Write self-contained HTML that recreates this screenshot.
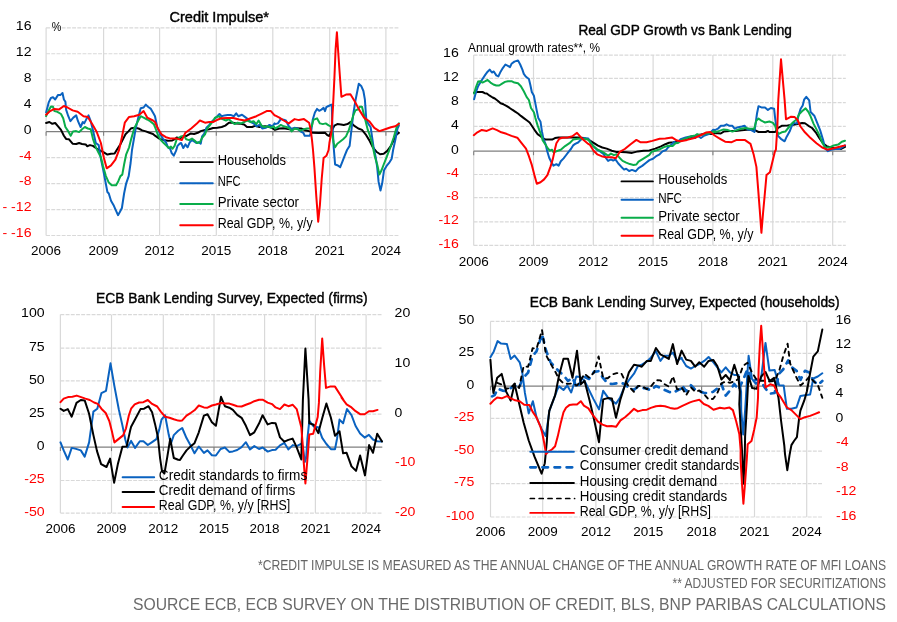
<!DOCTYPE html>
<html><head><meta charset="utf-8"><title>Credit charts</title>
<style>html,body{margin:0;padding:0;background:#fff}svg{display:block;font-family:"Liberation Sans", sans-serif}</style>
</head><body>
<svg width="897" height="622" viewBox="0 0 897 622">
<rect width="897" height="622" fill="#fff"/>
<line x1="46.1" y1="27.8" x2="398.9" y2="27.8" stroke="#d9d9d9" stroke-width="1.2" stroke-dasharray="3.9 1.3"/>
<line x1="46.1" y1="53.7625" x2="398.9" y2="53.7625" stroke="#d9d9d9" stroke-width="1.2" stroke-dasharray="3.9 1.3"/>
<line x1="46.1" y1="79.725" x2="398.9" y2="79.725" stroke="#d9d9d9" stroke-width="1.2" stroke-dasharray="3.9 1.3"/>
<line x1="46.1" y1="105.68749999999999" x2="398.9" y2="105.68749999999999" stroke="#d9d9d9" stroke-width="1.2" stroke-dasharray="3.9 1.3"/>
<line x1="46.1" y1="157.6125" x2="398.9" y2="157.6125" stroke="#d9d9d9" stroke-width="1.2" stroke-dasharray="3.9 1.3"/>
<line x1="46.1" y1="183.575" x2="398.9" y2="183.575" stroke="#d9d9d9" stroke-width="1.2" stroke-dasharray="3.9 1.3"/>
<line x1="46.1" y1="209.5375" x2="398.9" y2="209.5375" stroke="#d9d9d9" stroke-width="1.2" stroke-dasharray="3.9 1.3"/>
<line x1="46.1" y1="235.5" x2="398.9" y2="235.5" stroke="#d9d9d9" stroke-width="1.2" stroke-dasharray="3.9 1.3"/>
<line x1="46.1" y1="27.8" x2="46.1" y2="235.5" stroke="#d9d9d9" stroke-width="1.2"/>
<line x1="103.6" y1="27.8" x2="103.6" y2="235.5" stroke="#d9d9d9" stroke-width="1.2"/>
<line x1="159.6" y1="27.8" x2="159.6" y2="235.5" stroke="#d9d9d9" stroke-width="1.2"/>
<line x1="216.3" y1="27.8" x2="216.3" y2="235.5" stroke="#d9d9d9" stroke-width="1.2"/>
<line x1="272.8" y1="27.8" x2="272.8" y2="235.5" stroke="#d9d9d9" stroke-width="1.2"/>
<line x1="329.7" y1="27.8" x2="329.7" y2="235.5" stroke="#d9d9d9" stroke-width="1.2"/>
<line x1="385.9" y1="27.8" x2="385.9" y2="235.5" stroke="#d9d9d9" stroke-width="1.2"/>
<line x1="46.1" y1="131.65" x2="398.9" y2="131.65" stroke="#7f7f7f" stroke-width="1.3"/>
<line x1="46.1" y1="131.65" x2="46.1" y2="135.65" stroke="#7f7f7f" stroke-width="1.1"/>
<line x1="103.6" y1="131.65" x2="103.6" y2="135.65" stroke="#7f7f7f" stroke-width="1.1"/>
<line x1="159.6" y1="131.65" x2="159.6" y2="135.65" stroke="#7f7f7f" stroke-width="1.1"/>
<line x1="216.3" y1="131.65" x2="216.3" y2="135.65" stroke="#7f7f7f" stroke-width="1.1"/>
<line x1="272.8" y1="131.65" x2="272.8" y2="135.65" stroke="#7f7f7f" stroke-width="1.1"/>
<line x1="329.7" y1="131.65" x2="329.7" y2="135.65" stroke="#7f7f7f" stroke-width="1.1"/>
<line x1="385.9" y1="131.65" x2="385.9" y2="135.65" stroke="#7f7f7f" stroke-width="1.1"/>
<polyline points="46.1,123.0 49.4,122.0 52.3,123.8 55.2,123.0 58.1,126.3 61.0,129.9 63.9,135.7 66.1,138.9 69.0,139.3 72.6,143.7 76.2,144.0 79.1,143.0 82.0,144.0 85.7,144.4 87.1,146.2 90.0,145.1 92.9,145.9 95.8,148.0 99.4,150.2 103.8,152.4 107.4,154.6 111.0,153.8 114.6,153.6 117.5,148.8 120.4,144.4 123.3,138.6 125.5,134.3 128.4,131.4 131.3,128.2 134.9,127.8 138.6,128.5 142.2,130.4 145.8,131.4 149.4,132.8 153.0,134.0 155.0,135.7 159.3,138.6 163.7,140.1 168.0,140.8 172.4,140.4 175.3,138.9 176.7,137.5 179.6,138.3 183.3,136.9 186.9,135.7 190.5,133.6 194.1,134.0 197.8,132.8 200.7,131.1 205.0,129.9 209.3,129.2 213.0,128.0 217.3,127.8 221.7,127.0 225.3,125.6 228.9,122.7 231.8,122.4 236.2,123.4 240.5,123.8 244.1,124.4 247.0,127.0 252.1,127.0 255.0,125.9 259.4,127.0 265.1,126.3 270.9,127.3 275.0,129.9 279.4,128.5 283.7,128.2 289.5,129.2 295.3,128.2 301.1,128.5 305.4,130.2 309.8,131.4 312.7,132.8 318.5,133.1 325.0,132.8 327.2,135.0 329.4,136.0 331.5,131.4 334.4,125.6 337.3,124.1 340.9,124.4 343.8,124.9 347.5,124.1 350.4,122.0 354.0,125.6 358.3,128.5 362.0,129.9 365.6,134.3 369.2,140.1 372.8,147.3 376.4,151.7 380.1,154.3 383.7,153.8 387.3,150.9 390.9,145.9 393.8,140.1 396.7,134.3 398.9,132.8" fill="none" stroke="#000" stroke-width="2.0" stroke-linejoin="round" stroke-linecap="round"/>
<polyline points="46.1,112.5 48.7,102.4 50.9,98.0 53.0,97.3 55.2,99.5 58.1,94.9 60.3,95.1 62.5,93.0 63.9,99.5 65.4,101.7 66.1,109.6 68.3,116.2 70.4,121.2 73.3,117.6 76.2,115.4 78.0,121.2 80.6,127.0 82.8,122.0 84.2,123.4 86.4,119.1 88.5,115.4 90.7,121.2 92.9,129.9 95.8,143.0 98.7,145.1 100.9,158.7 103.0,168.8 105.2,180.4 107.4,192.0 108.8,193.5 111.0,200.7 113.9,205.8 116.1,210.9 118.0,215.2 119.7,212.3 121.9,208.0 124.1,193.5 126.2,183.3 128.7,176.1 130.6,163.0 132.0,150.0 135.7,128.5 138.6,116.2 140.7,108.2 143.6,107.5 145.8,104.6 148.0,106.7 150.9,108.9 153.8,114.0 155.0,116.2 157.2,127.0 160.1,134.3 163.0,138.6 165.9,142.2 168.0,147.3 170.2,148.8 171.7,153.1 173.8,155.7 176.0,150.9 177.5,145.9 179.6,143.7 181.1,143.0 183.3,148.0 185.4,144.4 187.6,147.3 189.8,142.2 192.0,140.1 194.1,141.5 196.3,143.0 198.5,142.2 200.7,143.7 202.1,136.4 204.3,133.6 206.4,127.8 209.3,124.9 212.2,121.2 214.4,119.1 217.3,116.2 219.5,114.0 221.7,116.2 224.6,115.4 227.5,115.1 231.1,115.1 234.0,116.2 236.2,113.3 238.3,116.2 242.0,114.7 244.9,116.9 247.8,119.1 250.7,122.0 253.6,123.4 256.4,126.3 259.4,124.9 262.2,128.5 265.9,127.8 269.5,124.9 272.4,126.3 274.6,123.4 275.0,124.1 277.9,123.4 280.8,119.1 283.7,119.8 285.9,120.5 288.8,126.3 291.7,129.2 294.6,127.8 297.5,128.5 300.4,131.4 303.3,132.8 304.7,135.7 307.6,135.7 309.8,135.7 311.2,131.4 312.7,119.8 314.9,112.5 317.0,108.9 319.2,110.8 321.4,109.6 323.6,107.9 325.0,111.1 326.4,107.0 328.6,106.0 330.8,105.0 331.8,104.6 332.2,121.2 333.0,134.3 333.7,147.3 335.1,164.5 337.3,165.2 340.2,167.1 342.4,161.6 344.6,155.8 347.0,150.0 349.6,145.9 351.1,132.8 353.3,114.0 355.4,100.9 356.2,96.8 358.8,83.8 361.2,85.9 363.4,91.0 364.9,99.7 365.6,109.9 366.3,119.8 368.5,124.1 370.6,127.0 372.1,137.2 373.6,147.3 375.7,157.2 377.2,167.4 378.6,181.9 380.5,190.6 382.2,183.3 384.0,170.3 386.6,165.9 389.5,162.3 391.7,158.7 393.1,150.0 395.3,140.1 397.5,128.5 398.9,125.6" fill="none" stroke="#0a62c0" stroke-width="2.0" stroke-linejoin="round" stroke-linecap="round"/>
<polyline points="46.1,116.2 48.7,110.4 50.9,106.5 53.0,106.7 54.5,111.1 57.4,111.8 61.0,114.0 63.2,118.3 65.4,127.0 68.3,131.4 70.7,135.7 73.0,131.4 76.2,131.1 79.1,132.1 82.0,129.2 84.9,127.0 87.8,128.5 90.7,129.2 92.9,138.6 95.8,147.3 98.7,153.1 100.9,157.2 103.0,165.9 105.9,176.1 108.8,182.6 111.7,185.2 116.1,185.2 118.3,181.2 120.4,176.1 122.3,174.6 124.1,164.5 126.2,154.3 129.1,147.3 131.3,138.6 134.2,128.5 137.1,122.7 140.7,116.2 143.6,117.6 147.2,119.5 150.1,121.2 153.8,124.1 155.0,127.0 157.9,135.0 160.8,140.1 163.7,143.0 166.6,145.9 168.8,148.0 170.9,146.6 172.4,148.8 174.6,145.9 176.7,139.3 178.9,137.9 181.1,136.4 184.0,135.7 186.2,139.3 189.1,140.1 192.0,138.6 194.9,140.8 197.0,143.0 199.9,142.2 202.1,137.9 205.0,134.3 207.2,128.5 210.1,124.9 213.0,121.2 215.1,117.6 218.8,116.2 222.4,119.1 226.0,120.5 228.9,119.1 231.8,122.0 234.7,124.1 237.6,122.7 241.2,123.4 244.1,122.0 247.0,120.5 250.7,122.0 253.6,121.2 256.4,124.1 258.6,120.5 261.5,125.6 264.4,127.0 268.0,126.3 270.9,127.8 273.8,126.3 275.0,128.5 277.9,127.0 280.8,124.9 283.7,126.3 286.6,127.0 289.5,128.5 291.7,131.4 294.6,128.5 297.5,129.2 300.4,130.7 304.0,129.2 306.9,128.5 309.8,128.5 312.0,125.6 313.4,119.8 317.0,118.3 319.9,123.4 322.8,124.1 325.7,123.4 328.6,125.3 330.8,126.3 332.2,134.3 333.7,143.0 335.1,147.3 337.3,143.7 340.2,141.5 343.1,139.3 346.0,136.4 348.9,129.9 351.1,122.7 353.3,115.4 355.4,110.4 358.3,109.3 359.8,106.7 362.0,106.7 363.4,112.5 365.6,121.2 367.8,129.9 369.9,135.7 372.1,143.0 375.0,157.2 377.2,164.5 379.4,174.6 381.5,170.3 383.7,164.5 386.6,157.2 390.9,145.9 393.8,137.2 396.7,127.0 398.9,123.4" fill="none" stroke="#0aad4a" stroke-width="2.0" stroke-linejoin="round" stroke-linecap="round"/>
<polyline points="46.1,114.7 50.1,111.1 54.5,108.9 58.8,109.6 63.9,106.0 67.5,107.5 72.6,110.4 77.7,111.8 83.5,116.2 87.8,116.9 92.2,124.1 96.5,131.4 100.9,143.0 103.8,157.5 106.7,168.3 111.0,165.4 115.4,159.6 119.0,150.2 121.9,137.2 124.8,122.7 129.1,116.9 134.2,116.2 139.3,114.7 143.6,111.1 147.2,117.6 153.0,120.5 155.0,122.0 157.9,128.5 161.5,134.3 165.9,137.2 170.9,138.6 176.7,138.6 181.8,140.1 185.4,132.8 191.2,128.5 196.3,124.1 199.9,120.5 205.0,122.7 209.3,122.0 213.0,122.0 217.3,119.8 221.7,118.3 227.5,118.0 233.3,118.0 239.1,119.5 244.9,120.5 250.7,118.3 256.4,116.2 262.2,113.3 266.6,111.1 270.9,111.1 274.6,115.4 275.0,115.4 279.4,117.6 283.7,120.5 288.8,123.4 294.6,119.1 298.9,120.1 304.0,119.1 309.1,122.7 310.5,128.5 312.0,140.1 313.0,150.0 314.4,167.4 316.3,196.4 318.2,221.7 319.9,205.1 321.7,179.0 323.6,158.0 326.4,155.8 328.6,150.0 329.4,143.0 331.5,131.4 333.0,106.7 334.4,78.0 335.6,49.0 336.9,32.3 338.0,49.0 339.5,70.7 341.4,96.8 346.0,94.6 350.4,94.3 354.7,101.2 359.1,109.6 364.1,117.6 369.2,121.2 374.3,127.8 379.4,131.1 385.1,129.2 390.9,127.3 395.3,126.3 398.9,123.8" fill="none" stroke="#ff0000" stroke-width="2.0" stroke-linejoin="round" stroke-linecap="round"/>
<text x="31.5" y="29.7" font-size="13.3" text-anchor="end" textLength="15.7" lengthAdjust="spacingAndGlyphs" fill="#000">16</text>
<text x="31.5" y="55.6625" font-size="13.3" text-anchor="end" textLength="15.7" lengthAdjust="spacingAndGlyphs" fill="#000">12</text>
<text x="31.5" y="81.625" font-size="13.3" text-anchor="end" textLength="7.8" lengthAdjust="spacingAndGlyphs" fill="#000">8</text>
<text x="31.5" y="107.58749999999999" font-size="13.3" text-anchor="end" textLength="7.8" lengthAdjust="spacingAndGlyphs" fill="#000">4</text>
<text x="31.5" y="133.55" font-size="13.3" text-anchor="end" textLength="7.8" lengthAdjust="spacingAndGlyphs" fill="#000">0</text>
<text x="31.5" y="159.51250000000002" font-size="13.3" text-anchor="end" textLength="12.5" lengthAdjust="spacingAndGlyphs" fill="#ff0000">-4</text>
<text x="31.5" y="185.475" font-size="13.3" text-anchor="end" textLength="12.5" lengthAdjust="spacingAndGlyphs" fill="#ff0000">-8</text>
<text x="31.5" y="211.4375" font-size="13.3" text-anchor="end" textLength="29.0" lengthAdjust="spacingAndGlyphs" fill="#ff0000">- -12</text>
<text x="31.5" y="237.4" font-size="13.3" text-anchor="end" textLength="29.0" lengthAdjust="spacingAndGlyphs" fill="#ff0000">- -16</text>
<text x="46.1" y="255" font-size="13.3" text-anchor="middle" textLength="30" lengthAdjust="spacingAndGlyphs" fill="#000">2006</text>
<text x="103.6" y="255" font-size="13.3" text-anchor="middle" textLength="30" lengthAdjust="spacingAndGlyphs" fill="#000">2009</text>
<text x="159.6" y="255" font-size="13.3" text-anchor="middle" textLength="30" lengthAdjust="spacingAndGlyphs" fill="#000">2012</text>
<text x="216.3" y="255" font-size="13.3" text-anchor="middle" textLength="30" lengthAdjust="spacingAndGlyphs" fill="#000">2015</text>
<text x="272.8" y="255" font-size="13.3" text-anchor="middle" textLength="30" lengthAdjust="spacingAndGlyphs" fill="#000">2018</text>
<text x="329.7" y="255" font-size="13.3" text-anchor="middle" textLength="30" lengthAdjust="spacingAndGlyphs" fill="#000">2021</text>
<text x="385.9" y="255" font-size="13.3" text-anchor="middle" textLength="30" lengthAdjust="spacingAndGlyphs" fill="#000">2024</text>
<text x="169.5" y="22" font-size="14" textLength="99.5" lengthAdjust="spacingAndGlyphs" fill="#000" stroke="#000" stroke-width="0.4">Credit Impulse*</text>
<text x="51.8" y="31" font-size="13.5" textLength="9.6" lengthAdjust="spacingAndGlyphs" fill="#000">%</text>
<line x1="180.2" y1="162.1" x2="212.8" y2="162.1" stroke="#000" stroke-width="1.9" stroke-linecap="round"/>
<text x="217.7" y="165.1" font-size="14" textLength="68.3" lengthAdjust="spacingAndGlyphs" fill="#000">Households</text>
<line x1="180.2" y1="183.2" x2="212.8" y2="183.2" stroke="#0a62c0" stroke-width="1.9" stroke-linecap="round"/>
<text x="217.7" y="186.2" font-size="14" textLength="22.8" lengthAdjust="spacingAndGlyphs" fill="#000">NFC</text>
<line x1="180.2" y1="204" x2="212.8" y2="204" stroke="#0aad4a" stroke-width="1.9" stroke-linecap="round"/>
<text x="217.7" y="207.0" font-size="14" textLength="81.3" lengthAdjust="spacingAndGlyphs" fill="#000">Private sector</text>
<line x1="180.2" y1="225.3" x2="212.8" y2="225.3" stroke="#ff0000" stroke-width="1.9" stroke-linecap="round"/>
<text x="217.7" y="228.3" font-size="14" textLength="95.1" lengthAdjust="spacingAndGlyphs" fill="#000">Real GDP, %, y/y</text>
<line x1="473.7" y1="55.1" x2="845.8" y2="55.1" stroke="#d9d9d9" stroke-width="1.2" stroke-dasharray="3.9 1.3"/>
<line x1="473.7" y1="78.3" x2="845.8" y2="78.3" stroke="#d9d9d9" stroke-width="1.2" stroke-dasharray="3.9 1.3"/>
<line x1="473.7" y1="102.6" x2="845.8" y2="102.6" stroke="#d9d9d9" stroke-width="1.2" stroke-dasharray="3.9 1.3"/>
<line x1="473.7" y1="126.4" x2="845.8" y2="126.4" stroke="#d9d9d9" stroke-width="1.2" stroke-dasharray="3.9 1.3"/>
<line x1="473.7" y1="174.5" x2="845.8" y2="174.5" stroke="#d9d9d9" stroke-width="1.2" stroke-dasharray="3.9 1.3"/>
<line x1="473.7" y1="197.7" x2="845.8" y2="197.7" stroke="#d9d9d9" stroke-width="1.2" stroke-dasharray="3.9 1.3"/>
<line x1="473.7" y1="221.9" x2="845.8" y2="221.9" stroke="#d9d9d9" stroke-width="1.2" stroke-dasharray="3.9 1.3"/>
<line x1="473.7" y1="245.4" x2="845.8" y2="245.4" stroke="#d9d9d9" stroke-width="1.2" stroke-dasharray="3.9 1.3"/>
<line x1="473.7" y1="55.1" x2="473.7" y2="245.4" stroke="#d9d9d9" stroke-width="1.2"/>
<line x1="533.5" y1="55.1" x2="533.5" y2="245.4" stroke="#d9d9d9" stroke-width="1.2"/>
<line x1="593.3" y1="55.1" x2="593.3" y2="245.4" stroke="#d9d9d9" stroke-width="1.2"/>
<line x1="653.1" y1="55.1" x2="653.1" y2="245.4" stroke="#d9d9d9" stroke-width="1.2"/>
<line x1="712.9" y1="55.1" x2="712.9" y2="245.4" stroke="#d9d9d9" stroke-width="1.2"/>
<line x1="772.8" y1="55.1" x2="772.8" y2="245.4" stroke="#d9d9d9" stroke-width="1.2"/>
<line x1="832.7" y1="55.1" x2="832.7" y2="245.4" stroke="#d9d9d9" stroke-width="1.2"/>
<line x1="473.7" y1="151.2" x2="845.8" y2="151.2" stroke="#7f7f7f" stroke-width="1.3"/>
<line x1="473.7" y1="151.2" x2="473.7" y2="155.2" stroke="#7f7f7f" stroke-width="1.1"/>
<line x1="533.5" y1="151.2" x2="533.5" y2="155.2" stroke="#7f7f7f" stroke-width="1.1"/>
<line x1="593.3" y1="151.2" x2="593.3" y2="155.2" stroke="#7f7f7f" stroke-width="1.1"/>
<line x1="653.1" y1="151.2" x2="653.1" y2="155.2" stroke="#7f7f7f" stroke-width="1.1"/>
<line x1="712.9" y1="151.2" x2="712.9" y2="155.2" stroke="#7f7f7f" stroke-width="1.1"/>
<line x1="772.8" y1="151.2" x2="772.8" y2="155.2" stroke="#7f7f7f" stroke-width="1.1"/>
<line x1="832.7" y1="151.2" x2="832.7" y2="155.2" stroke="#7f7f7f" stroke-width="1.1"/>
<polyline points="474.1,92.8 476.7,92.0 479.6,92.0 482.5,92.0 484.7,93.2 486.8,93.5 489.7,95.7 492.6,97.5 494.8,98.5 497.7,100.7 500.6,103.3 503.5,104.3 506.4,105.8 509.3,107.7 512.2,109.7 515.1,111.6 518.0,113.5 520.9,115.9 523.8,118.1 526.7,120.3 529.6,122.5 532.5,126.8 535.4,131.2 537.6,134.1 540.5,136.2 542.6,138.1 545.5,139.6 552.1,139.6 555.0,138.1 558.6,137.4 563.6,137.4 569.5,137.4 578.1,137.4 583.9,138.1 588.3,139.6 590.0,140.6 593.6,142.8 598.0,145.7 602.3,147.5 606.7,148.6 611.7,150.7 616.1,151.9 621.2,151.9 626.2,152.2 632.0,152.9 637.8,151.4 643.6,150.7 649.4,150.4 655.2,148.6 661.0,146.4 665.4,144.2 669.0,142.8 673.3,142.3 678.4,141.3 682.8,139.9 688.5,138.0 694.4,136.2 700.1,134.8 705.9,133.6 711.7,134.1 715.0,133.0 720.8,133.5 723.7,131.6 729.5,130.9 735.3,130.9 744.0,130.1 749.8,129.4 754.9,130.1 758.5,132.0 765.7,132.0 767.9,130.9 769.4,132.0 775.1,132.0 778.0,128.0 781.7,125.8 787.5,125.4 793.3,124.8 797.6,123.9 802.0,122.9 804.9,123.3 808.5,125.8 812.1,128.0 815.7,132.3 819.4,138.1 823.0,143.2 826.6,146.1 830.9,147.5 836.7,148.3 841.1,149.0 845.0,146.8" fill="none" stroke="#000" stroke-width="2.0" stroke-linejoin="round" stroke-linecap="round"/>
<polyline points="474.1,99.3 476.0,92.0 478.1,86.2 480.3,82.6 482.5,79.0 485.4,74.6 487.6,71.7 489.7,69.6 491.9,72.5 493.8,71.5 496.3,75.4 498.4,76.4 500.6,71.7 502.8,68.1 505.4,64.5 507.9,65.9 510.0,67.1 511.5,63.8 514.4,61.6 518.0,60.4 520.2,64.5 522.4,69.6 523.8,73.9 526.0,76.8 528.9,79.0 530.3,84.8 531.8,92.0 533.9,95.7 535.4,103.6 536.8,110.9 538.3,118.1 540.5,121.7 541.9,131.2 543.4,138.8 545.5,143.9 547.0,150.4 549.2,157.7 551.3,162.0 553.5,165.7 556.4,164.2 558.6,165.7 560.8,161.3 563.6,158.4 565.8,155.5 568.0,152.6 570.9,149.0 573.1,145.4 575.2,143.9 578.1,142.5 581.0,139.6 583.9,138.1 588.3,138.6 590.0,141.3 592.9,145.7 596.5,149.3 600.1,151.4 603.8,154.3 605.9,158.0 608.1,160.9 611.0,159.4 613.2,160.6 615.4,159.4 618.3,163.5 621.2,166.7 624.1,169.6 626.2,168.8 629.1,171.0 632.0,169.9 635.6,171.3 638.5,168.1 642.2,165.9 645.8,163.0 649.4,160.1 653.0,158.7 656.7,155.8 659.6,154.3 662.5,151.4 666.1,150.0 668.3,147.1 671.2,144.9 674.1,142.0 677.0,143.2 680.6,139.1 685.6,137.4 691.5,136.2 695.1,138.0 697.2,135.5 700.9,138.0 704.5,135.5 708.8,134.1 713.2,129.7 715.0,130.1 717.9,128.7 720.8,125.8 723.7,125.8 726.6,124.3 729.5,125.8 732.4,125.8 734.6,128.7 738.2,127.2 741.8,126.5 744.7,125.8 747.6,129.4 751.2,130.1 754.4,132.0 755.6,123.6 757.0,113.5 758.5,106.2 761.4,107.4 765.0,107.4 767.9,109.9 770.8,108.0 774.1,108.8 775.1,117.8 776.6,129.4 778.0,135.9 780.9,138.8 784.6,141.3 786.7,136.7 789.6,131.6 791.8,125.8 794.0,122.9 796.9,123.6 798.3,116.4 800.5,109.1 802.7,105.5 804.1,99.7 806.3,96.8 809.2,100.4 810.6,112.0 814.3,115.7 817.2,122.9 820.1,130.1 823.0,139.6 825.1,148.3 828.0,151.2 830.9,149.7 835.3,149.0 839.6,149.0 845.0,145.4" fill="none" stroke="#0a62c0" stroke-width="2.0" stroke-linejoin="round" stroke-linecap="round"/>
<polyline points="474.1,93.5 476.0,87.0 478.1,81.6 480.3,81.2 482.5,82.6 485.4,81.2 487.6,80.0 490.5,82.6 493.4,84.5 496.3,85.5 499.2,85.5 502.1,83.6 505.0,81.9 507.9,81.2 511.5,81.2 514.4,82.6 518.0,83.3 520.9,86.2 523.8,91.3 526.7,97.1 528.9,100.0 531.0,108.0 533.9,112.3 535.4,118.1 537.6,125.4 539.7,131.2 541.9,137.0 542.6,140.3 545.5,144.6 547.7,148.3 549.9,150.7 552.1,149.7 553.5,152.2 556.4,151.2 560.8,149.7 565.1,146.1 569.5,143.2 573.1,139.6 578.1,138.8 583.9,138.8 588.3,139.6 590.0,142.0 593.6,146.4 597.2,149.3 601.6,151.4 605.2,153.6 608.1,155.8 611.0,153.6 613.9,155.1 616.8,154.3 619.7,158.0 622.6,160.9 626.2,162.6 629.9,164.1 633.5,164.9 636.4,164.5 638.5,161.6 642.2,159.4 645.8,157.2 649.4,154.8 651.6,151.9 655.2,150.7 659.6,149.3 663.9,147.1 668.3,145.7 672.6,146.1 675.5,143.2 678.4,142.8 682.0,139.9 687.1,138.0 691.5,136.2 695.1,135.5 697.2,134.1 700.9,135.1 705.9,133.6 710.3,133.0 714.6,131.2 715.0,132.3 719.4,130.9 723.7,129.4 728.0,130.1 732.4,131.6 736.7,130.1 741.1,128.7 745.4,128.0 749.8,128.7 754.1,128.7 756.3,120.7 758.5,118.5 761.4,120.7 765.0,122.5 769.4,121.5 773.0,122.9 775.1,125.8 776.6,130.9 778.8,133.8 781.7,132.3 785.3,131.6 788.2,128.0 791.1,124.3 794.0,121.5 796.9,119.3 799.1,114.2 802.0,111.3 805.6,108.4 808.5,112.0 810.6,116.4 813.5,123.6 816.5,129.4 819.4,135.2 822.2,142.5 825.1,147.5 829.5,147.5 833.8,145.4 838.2,144.6 841.8,141.7 845.0,140.7" fill="none" stroke="#0aad4a" stroke-width="2.0" stroke-linejoin="round" stroke-linecap="round"/>
<polyline points="473.8,135.2 477.4,132.3 481.8,129.9 486.8,130.9 492.6,128.4 497.0,130.1 501.3,132.3 506.4,133.8 511.5,135.9 517.3,137.7 521.6,143.2 526.0,148.7 528.9,156.2 531.8,164.9 534.4,175.1 536.8,183.8 540.5,182.3 544.1,179.4 547.4,175.1 550.6,166.4 552.8,159.1 555.0,149.0 556.4,143.2 559.3,138.8 562.2,137.7 568.0,137.4 572.4,136.2 577.0,132.8 580.3,136.7 583.9,140.3 588.3,143.9 590.0,144.9 593.6,150.7 597.2,154.3 601.6,156.2 605.9,157.2 611.7,157.2 615.8,158.3 619.7,151.9 624.8,149.0 630.6,144.2 636.4,139.9 640.7,142.3 646.5,142.3 652.3,140.9 659.6,138.8 665.4,138.4 671.9,137.4 677.0,140.6 680.6,141.3 687.1,139.9 694.4,138.0 700.1,135.5 705.9,132.6 710.3,131.9 714.6,135.5 720.1,138.8 725.1,141.7 731.7,142.2 736.7,139.9 744.7,139.9 750.5,143.9 752.7,151.2 753.8,155.1 756.4,166.9 758.0,187.2 759.7,209.2 761.4,232.8 763.1,212.5 764.8,194.0 766.5,175.1 769.9,172.3 773.2,158.5 774.9,151.4 775.9,149.7 777.3,128.0 778.3,99.8 781.0,59.3 784.6,99.8 786.0,119.3 791.1,116.7 794.7,117.1 797.6,120.0 800.5,126.5 804.9,132.3 810.6,138.1 816.5,143.2 822.2,147.5 827.3,149.7 833.8,148.3 839.6,146.8 845.0,145.4" fill="none" stroke="#ff0000" stroke-width="2.0" stroke-linejoin="round" stroke-linecap="round"/>
<text x="458.8" y="57.4" font-size="13.3" text-anchor="end" textLength="15.7" lengthAdjust="spacingAndGlyphs" fill="#000">16</text>
<text x="458.8" y="80.6" font-size="13.3" text-anchor="end" textLength="15.7" lengthAdjust="spacingAndGlyphs" fill="#000">12</text>
<text x="458.8" y="104.89999999999999" font-size="13.3" text-anchor="end" textLength="7.8" lengthAdjust="spacingAndGlyphs" fill="#000">8</text>
<text x="458.8" y="128.70000000000002" font-size="13.3" text-anchor="end" textLength="7.8" lengthAdjust="spacingAndGlyphs" fill="#000">4</text>
<text x="458.8" y="153.5" font-size="13.3" text-anchor="end" textLength="7.8" lengthAdjust="spacingAndGlyphs" fill="#000">0</text>
<text x="458.8" y="176.8" font-size="13.3" text-anchor="end" textLength="12.5" lengthAdjust="spacingAndGlyphs" fill="#ff0000">-4</text>
<text x="458.8" y="200.0" font-size="13.3" text-anchor="end" textLength="12.5" lengthAdjust="spacingAndGlyphs" fill="#ff0000">-8</text>
<text x="458.8" y="224.20000000000002" font-size="13.3" text-anchor="end" textLength="20.4" lengthAdjust="spacingAndGlyphs" fill="#ff0000">-12</text>
<text x="458.8" y="247.70000000000002" font-size="13.3" text-anchor="end" textLength="20.4" lengthAdjust="spacingAndGlyphs" fill="#ff0000">-16</text>
<text x="473.7" y="266" font-size="13.3" text-anchor="middle" textLength="30" lengthAdjust="spacingAndGlyphs" fill="#000">2006</text>
<text x="533.5" y="266" font-size="13.3" text-anchor="middle" textLength="30" lengthAdjust="spacingAndGlyphs" fill="#000">2009</text>
<text x="593.3" y="266" font-size="13.3" text-anchor="middle" textLength="30" lengthAdjust="spacingAndGlyphs" fill="#000">2012</text>
<text x="653.1" y="266" font-size="13.3" text-anchor="middle" textLength="30" lengthAdjust="spacingAndGlyphs" fill="#000">2015</text>
<text x="712.9" y="266" font-size="13.3" text-anchor="middle" textLength="30" lengthAdjust="spacingAndGlyphs" fill="#000">2018</text>
<text x="772.8" y="266" font-size="13.3" text-anchor="middle" textLength="30" lengthAdjust="spacingAndGlyphs" fill="#000">2021</text>
<text x="832.7" y="266" font-size="13.3" text-anchor="middle" textLength="30" lengthAdjust="spacingAndGlyphs" fill="#000">2024</text>
<text x="578.4" y="35" font-size="14" textLength="213.5" lengthAdjust="spacingAndGlyphs" fill="#000" stroke="#000" stroke-width="0.4">Real GDP Growth vs Bank Lending</text>
<text x="468" y="51.9" font-size="12" textLength="132" lengthAdjust="spacingAndGlyphs" fill="#000">Annual growth rates**, %</text>
<line x1="621.5" y1="181.4" x2="652.9" y2="181.4" stroke="#000" stroke-width="1.9" stroke-linecap="round"/>
<text x="658.2" y="184.4" font-size="14" textLength="69.0" lengthAdjust="spacingAndGlyphs" fill="#000">Households</text>
<line x1="621.5" y1="199.7" x2="652.9" y2="199.7" stroke="#0a62c0" stroke-width="1.9" stroke-linecap="round"/>
<text x="658.2" y="202.7" font-size="14" textLength="23.8" lengthAdjust="spacingAndGlyphs" fill="#000">NFC</text>
<line x1="621.5" y1="217.8" x2="652.9" y2="217.8" stroke="#0aad4a" stroke-width="1.9" stroke-linecap="round"/>
<text x="658.2" y="220.8" font-size="14" textLength="81.5" lengthAdjust="spacingAndGlyphs" fill="#000">Private sector</text>
<line x1="621.5" y1="235.8" x2="652.9" y2="235.8" stroke="#ff0000" stroke-width="1.9" stroke-linecap="round"/>
<text x="658.2" y="238.8" font-size="14" textLength="95.3" lengthAdjust="spacingAndGlyphs" fill="#000">Real GDP, %, y/y</text>
<line x1="60.4" y1="314.6" x2="382.3" y2="314.6" stroke="#d9d9d9" stroke-width="1.2" stroke-dasharray="3.9 1.3"/>
<line x1="60.4" y1="348.2" x2="382.3" y2="348.2" stroke="#d9d9d9" stroke-width="1.2" stroke-dasharray="3.9 1.3"/>
<line x1="60.4" y1="380.8" x2="382.3" y2="380.8" stroke="#d9d9d9" stroke-width="1.2" stroke-dasharray="3.9 1.3"/>
<line x1="60.4" y1="414.1" x2="382.3" y2="414.1" stroke="#d9d9d9" stroke-width="1.2" stroke-dasharray="3.9 1.3"/>
<line x1="60.4" y1="480.5" x2="382.3" y2="480.5" stroke="#d9d9d9" stroke-width="1.2" stroke-dasharray="3.9 1.3"/>
<line x1="60.4" y1="513.1" x2="382.3" y2="513.1" stroke="#d9d9d9" stroke-width="1.2" stroke-dasharray="3.9 1.3"/>
<line x1="60.4" y1="314.6" x2="60.4" y2="513.1" stroke="#d9d9d9" stroke-width="1.2"/>
<line x1="111.5" y1="314.6" x2="111.5" y2="513.1" stroke="#d9d9d9" stroke-width="1.2"/>
<line x1="163.3" y1="314.6" x2="163.3" y2="513.1" stroke="#d9d9d9" stroke-width="1.2"/>
<line x1="214.0" y1="314.6" x2="214.0" y2="513.1" stroke="#d9d9d9" stroke-width="1.2"/>
<line x1="264.6" y1="314.6" x2="264.6" y2="513.1" stroke="#d9d9d9" stroke-width="1.2"/>
<line x1="315.4" y1="314.6" x2="315.4" y2="513.1" stroke="#d9d9d9" stroke-width="1.2"/>
<line x1="366.1" y1="314.6" x2="366.1" y2="513.1" stroke="#d9d9d9" stroke-width="1.2"/>
<line x1="60.4" y1="447.1" x2="382.3" y2="447.1" stroke="#7f7f7f" stroke-width="1.3"/>
<line x1="60.4" y1="447.1" x2="60.4" y2="451.1" stroke="#7f7f7f" stroke-width="1.1"/>
<line x1="111.5" y1="447.1" x2="111.5" y2="451.1" stroke="#7f7f7f" stroke-width="1.1"/>
<line x1="163.3" y1="447.1" x2="163.3" y2="451.1" stroke="#7f7f7f" stroke-width="1.1"/>
<line x1="214.0" y1="447.1" x2="214.0" y2="451.1" stroke="#7f7f7f" stroke-width="1.1"/>
<line x1="264.6" y1="447.1" x2="264.6" y2="451.1" stroke="#7f7f7f" stroke-width="1.1"/>
<line x1="315.4" y1="447.1" x2="315.4" y2="451.1" stroke="#7f7f7f" stroke-width="1.1"/>
<line x1="366.1" y1="447.1" x2="366.1" y2="451.1" stroke="#7f7f7f" stroke-width="1.1"/>
<polyline points="60.5,442.4 63.7,450.4 67.8,459.5 71.7,447.9 76.0,448.9 80.8,450.4 84.7,456.6 89.1,442.4 93.4,411.6 97.3,408.7 101.4,393.2 106.0,390.9 110.5,363.3 114.4,386.2 118.8,409.4 122.4,425.4 125.3,439.5 127.5,447.5 131.1,440.9 135.1,447.9 139.8,441.2 143.4,441.2 147.8,445.0 152.1,442.1 156.4,439.2 159.3,429.4 161.5,419.6 165.1,415.2 168.8,435.1 170.9,443.8 173.8,435.1 178.2,430.8 182.2,428.0 186.5,438.1 190.9,446.1 194.5,453.3 198.8,446.5 203.9,452.9 207.5,450.4 211.9,455.2 215.9,455.5 220.6,449.0 224.9,447.5 229.3,451.9 232.9,451.4 237.2,450.0 241.6,447.1 245.9,442.2 250.0,449.4 254.3,446.1 259.0,449.0 262.6,447.5 267.7,451.6 272.0,450.1 275.6,449.7 280.0,445.4 284.4,442.9 288.4,449.4 292.8,445.1 296.7,446.1 301.0,443.9 302.9,446.6 304.8,462.0 306.1,458.2 307.4,438.9 309.3,420.9 313.8,426.7 318.3,427.3 322.2,437.9 326.4,444.0 330.9,449.2 335.0,449.2 337.0,438.9 339.5,419.6 343.1,423.2 347.0,409.0 351.5,415.1 355.6,426.0 360.1,433.5 364.6,437.6 368.9,434.8 373.0,439.5 377.2,441.2 382.0,441.5" fill="none" stroke="#0a62c0" stroke-width="2.0" stroke-linejoin="round" stroke-linecap="round"/>
<polyline points="60.5,408.7 63.7,410.9 67.8,409.1 71.7,416.7 76.5,402.9 80.8,400.0 84.7,400.4 89.1,413.8 92.0,428.3 93.4,435.1 97.0,451.1 101.1,464.1 106.5,467.0 110.1,458.6 114.1,482.7 118.0,463.4 122.4,446.7 126.7,446.4 130.4,429.4 131.1,426.8 135.4,418.8 140.5,409.1 144.1,408.7 148.5,406.2 152.1,412.3 155.0,423.9 157.9,437.0 160.1,458.3 162.0,471.1 164.4,473.6 167.3,456.9 170.2,438.8 173.8,458.0 178.2,459.8 180.0,459.9 182.9,455.5 186.5,450.4 190.9,446.1 194.5,443.2 198.8,432.3 203.9,415.6 207.5,414.2 211.9,422.2 215.9,425.8 221.0,396.8 224.9,406.2 229.3,407.7 232.9,409.9 237.2,414.9 241.6,417.8 245.9,425.8 250.0,435.2 254.3,432.3 259.0,423.6 262.6,415.2 267.7,424.4 272.0,422.9 275.6,423.3 280.0,437.4 284.4,441.7 288.4,439.9 292.6,438.6 296.4,446.6 301.3,459.5 302.9,399.8 305.4,348.6 308.6,399.8 309.3,423.4 313.8,424.7 318.3,433.1 322.2,418.3 326.4,403.5 330.9,417.7 335.0,435.7 339.5,431.2 343.1,453.3 346.6,452.8 351.5,466.4 356.0,470.9 360.1,455.4 365.0,475.4 369.1,445.1 373.0,452.8 377.2,433.7 382.0,441.5" fill="none" stroke="#000" stroke-width="2.0" stroke-linejoin="round" stroke-linecap="round"/>
<polyline points="60.5,402.2 63.7,398.6 68.0,397.1 72.4,396.7 76.7,395.6 81.1,397.1 85.4,398.6 89.8,400.0 94.1,402.5 97.8,403.9 101.4,408.7 105.7,413.0 109.3,421.0 112.2,432.6 114.4,442.4 123.1,435.4 126.0,428.3 128.9,415.2 131.1,408.7 134.7,404.4 139.1,402.5 143.4,402.2 147.8,400.0 152.1,403.9 157.2,406.5 160.8,411.6 165.1,416.7 169.5,417.8 173.8,419.3 178.2,420.6 180.0,420.7 182.2,420.4 186.5,415.6 190.9,412.8 194.5,410.3 198.8,405.5 203.9,407.4 207.5,407.7 211.9,405.5 215.9,404.5 221.0,403.0 224.9,403.6 229.3,403.6 232.9,404.8 237.2,406.2 241.6,406.5 245.9,404.8 250.0,403.3 254.3,401.2 259.0,399.7 262.6,399.7 267.7,402.6 272.0,404.1 275.6,407.4 280.0,409.1 284.4,404.5 288.4,406.2 292.8,404.8 296.7,409.1 301.3,427.3 302.9,446.6 303.5,459.3 305.4,483.5 307.4,459.3 308.0,451.8 309.3,434.4 313.2,433.7 317.7,417.0 318.9,402.9 320.2,371.5 322.2,338.6 324.1,365.0 326.0,387.9 329.9,386.6 335.0,386.6 343.4,399.8 341.5,397.7 346.6,404.4 351.5,407.4 355.6,411.2 360.1,414.2 364.6,414.2 368.9,411.2 373.0,411.2 377.5,409.9" fill="none" stroke="#ff0000" stroke-width="2.0" stroke-linejoin="round" stroke-linecap="round"/>
<text x="44.6" y="317.40000000000003" font-size="13.3" text-anchor="end" textLength="23.5" lengthAdjust="spacingAndGlyphs" fill="#000">100</text>
<text x="44.6" y="351.0" font-size="13.3" text-anchor="end" textLength="15.7" lengthAdjust="spacingAndGlyphs" fill="#000">75</text>
<text x="44.6" y="383.6" font-size="13.3" text-anchor="end" textLength="15.7" lengthAdjust="spacingAndGlyphs" fill="#000">50</text>
<text x="44.6" y="416.90000000000003" font-size="13.3" text-anchor="end" textLength="15.7" lengthAdjust="spacingAndGlyphs" fill="#000">25</text>
<text x="44.6" y="449.90000000000003" font-size="13.3" text-anchor="end" textLength="7.8" lengthAdjust="spacingAndGlyphs" fill="#000">0</text>
<text x="44.6" y="483.3" font-size="13.3" text-anchor="end" textLength="20.4" lengthAdjust="spacingAndGlyphs" fill="#ff0000">-25</text>
<text x="44.6" y="515.9" font-size="13.3" text-anchor="end" textLength="20.4" lengthAdjust="spacingAndGlyphs" fill="#ff0000">-50</text>
<text x="394.6" y="317.40000000000003" font-size="13.3" textLength="15.7" lengthAdjust="spacingAndGlyphs" fill="#000">20</text>
<text x="394.6" y="367.02500000000003" font-size="13.3" textLength="15.7" lengthAdjust="spacingAndGlyphs" fill="#000">10</text>
<text x="394.6" y="416.65000000000003" font-size="13.3" textLength="7.8" lengthAdjust="spacingAndGlyphs" fill="#000">0</text>
<text x="395" y="466.27500000000003" font-size="13.3" textLength="20.4" lengthAdjust="spacingAndGlyphs" fill="#ff0000">-10</text>
<text x="395" y="515.9" font-size="13.3" textLength="20.4" lengthAdjust="spacingAndGlyphs" fill="#ff0000">-20</text>
<text x="60.4" y="532.5" font-size="13.3" text-anchor="middle" textLength="30" lengthAdjust="spacingAndGlyphs" fill="#000">2006</text>
<text x="111.5" y="532.5" font-size="13.3" text-anchor="middle" textLength="30" lengthAdjust="spacingAndGlyphs" fill="#000">2009</text>
<text x="163.3" y="532.5" font-size="13.3" text-anchor="middle" textLength="30" lengthAdjust="spacingAndGlyphs" fill="#000">2012</text>
<text x="214.0" y="532.5" font-size="13.3" text-anchor="middle" textLength="30" lengthAdjust="spacingAndGlyphs" fill="#000">2015</text>
<text x="264.6" y="532.5" font-size="13.3" text-anchor="middle" textLength="30" lengthAdjust="spacingAndGlyphs" fill="#000">2018</text>
<text x="315.4" y="532.5" font-size="13.3" text-anchor="middle" textLength="30" lengthAdjust="spacingAndGlyphs" fill="#000">2021</text>
<text x="366.1" y="532.5" font-size="13.3" text-anchor="middle" textLength="30" lengthAdjust="spacingAndGlyphs" fill="#000">2024</text>
<text x="96" y="303" font-size="14" textLength="271.5" lengthAdjust="spacingAndGlyphs" fill="#000" stroke="#000" stroke-width="0.4">ECB Bank Lending Survey, Expected (firms)</text>
<line x1="122.6" y1="477.2" x2="154.2" y2="477.2" stroke="#0a62c0" stroke-width="1.9" stroke-linecap="round"/>
<text x="158.8" y="479.7" font-size="14" textLength="148.5" lengthAdjust="spacingAndGlyphs" fill="#000">Credit standards to firms</text>
<line x1="122.6" y1="492" x2="154.2" y2="492" stroke="#000" stroke-width="1.9" stroke-linecap="round"/>
<text x="158.8" y="494.5" font-size="14" textLength="136.5" lengthAdjust="spacingAndGlyphs" fill="#000">Credit demand of firms</text>
<line x1="122.6" y1="507.0" x2="154.2" y2="507.0" stroke="#ff0000" stroke-width="1.9" stroke-linecap="round"/>
<text x="158.8" y="509.5" font-size="14" textLength="131.4" lengthAdjust="spacingAndGlyphs" fill="#000">Real GDP, %, y/y [RHS]</text>
<line x1="490.5" y1="321.4" x2="823.1" y2="321.4" stroke="#d9d9d9" stroke-width="1.2" stroke-dasharray="3.9 1.3"/>
<line x1="490.5" y1="353.4" x2="823.1" y2="353.4" stroke="#d9d9d9" stroke-width="1.2" stroke-dasharray="3.9 1.3"/>
<line x1="490.5" y1="418.4" x2="823.1" y2="418.4" stroke="#d9d9d9" stroke-width="1.2" stroke-dasharray="3.9 1.3"/>
<line x1="490.5" y1="451.2" x2="823.1" y2="451.2" stroke="#d9d9d9" stroke-width="1.2" stroke-dasharray="3.9 1.3"/>
<line x1="490.5" y1="483.6" x2="823.1" y2="483.6" stroke="#d9d9d9" stroke-width="1.2" stroke-dasharray="3.9 1.3"/>
<line x1="490.5" y1="517.0" x2="823.1" y2="517.0" stroke="#d9d9d9" stroke-width="1.2" stroke-dasharray="3.9 1.3"/>
<line x1="490.5" y1="321.4" x2="490.5" y2="517.0" stroke="#d9d9d9" stroke-width="1.2"/>
<line x1="542.7" y1="321.4" x2="542.7" y2="517.0" stroke="#d9d9d9" stroke-width="1.2"/>
<line x1="595.9" y1="321.4" x2="595.9" y2="517.0" stroke="#d9d9d9" stroke-width="1.2"/>
<line x1="648.2" y1="321.4" x2="648.2" y2="517.0" stroke="#d9d9d9" stroke-width="1.2"/>
<line x1="701.6" y1="321.4" x2="701.6" y2="517.0" stroke="#d9d9d9" stroke-width="1.2"/>
<line x1="754.5" y1="321.4" x2="754.5" y2="517.0" stroke="#d9d9d9" stroke-width="1.2"/>
<line x1="806.7" y1="321.4" x2="806.7" y2="517.0" stroke="#d9d9d9" stroke-width="1.2"/>
<line x1="490.5" y1="386.2" x2="823.1" y2="386.2" stroke="#7f7f7f" stroke-width="1.3"/>
<line x1="490.5" y1="386.2" x2="490.5" y2="390.2" stroke="#7f7f7f" stroke-width="1.1"/>
<line x1="542.7" y1="386.2" x2="542.7" y2="390.2" stroke="#7f7f7f" stroke-width="1.1"/>
<line x1="595.9" y1="386.2" x2="595.9" y2="390.2" stroke="#7f7f7f" stroke-width="1.1"/>
<line x1="648.2" y1="386.2" x2="648.2" y2="390.2" stroke="#7f7f7f" stroke-width="1.1"/>
<line x1="701.6" y1="386.2" x2="701.6" y2="390.2" stroke="#7f7f7f" stroke-width="1.1"/>
<line x1="754.5" y1="386.2" x2="754.5" y2="390.2" stroke="#7f7f7f" stroke-width="1.1"/>
<line x1="806.7" y1="386.2" x2="806.7" y2="390.2" stroke="#7f7f7f" stroke-width="1.1"/>
<polyline points="490.4,357.2 493.8,351.4 497.6,341.1 501.1,343.6 506.9,344.0 510.7,359.1 514.6,355.6 519.7,362.3 522.3,372.6 524.9,392.9 528.7,413.4 532.9,401.2 536.5,417.3 541.6,428.9 545.7,436.0 548.0,421.2 549.3,410.9 553.2,400.6 557.0,390.3 559.0,386.4 563.5,390.0 567.3,385.5 571.2,392.5 576.3,376.5 580.2,377.1 584.5,380.8 593.5,399.1 599.0,409.4 603.2,390.8 607.7,397.2 611.5,400.4 616.0,403.6 619.9,397.9 624.4,386.9 628.9,380.2 634.0,373.7 637.9,366.0 641.8,364.7 646.9,361.5 650.8,357.7 655.9,351.2 660.4,360.9 664.3,355.7 668.8,355.7 672.9,352.5 677.1,360.9 681.6,357.7 681.9,358.9 686.2,366.0 690.9,368.6 695.2,366.0 699.3,364.1 704.2,360.9 708.6,357.0 713.2,362.2 717.3,367.3 721.4,372.4 725.7,367.3 729.9,372.4 734.3,375.0 738.5,375.0 741.1,391.8 741.2,410.7 743.2,434.5 745.1,410.7 746.9,381.5 748.6,355.7 752.0,378.9 755.9,384.0 761.0,378.9 765.5,342.9 769.4,370.5 774.6,369.9 779.1,385.3 783.7,385.6 785.0,395.3 786.9,408.8 791.4,408.8 796.5,407.5 800.4,395.9 804.9,395.3 810.1,394.6 813.3,378.5 817.8,376.5 822.3,373.3" fill="none" stroke="#0a62c0" stroke-width="2.0" stroke-linejoin="round" stroke-linecap="round"/>
<polyline points="492.1,396.4 494.6,395.1 497.9,388.7 502.4,390.6 506.2,391.2 510.7,388.0 514.6,385.5 519.1,388.0 522.3,379.0 528.1,372.6 532.6,355.9 536.5,351.4 542.0,334.0 546.1,350.7 550.6,362.3 555.1,367.4 559.0,371.3 563.5,375.2 568.0,381.0 572.5,377.8 577.0,388.0 580.8,381.6 580.0,378.2 584.5,377.0 589.0,378.9 594.1,371.8 598.6,371.2 603.2,378.2 607.7,383.4 612.2,384.0 616.7,383.4 621.2,382.8 624.4,384.0 628.9,387.9 634.0,389.8 637.9,386.6 641.8,387.9 646.9,388.5 650.8,390.5 655.9,386.0 660.4,387.9 664.3,389.8 668.8,391.8 672.9,393.0 677.1,390.5 681.6,388.5 681.9,385.3 686.2,391.1 690.9,385.3 695.2,389.8 699.3,391.1 704.2,393.0 708.6,393.0 713.2,391.8 717.3,388.5 721.4,384.0 725.7,395.6 729.9,390.5 734.3,384.0 738.5,389.8 743.0,380.2 747.5,369.2 752.0,382.1 756.5,379.5 761.0,381.5 765.5,388.5 769.4,393.7 774.6,393.0 779.1,373.7 783.1,369.5 788.2,360.4 790.2,366.2 796.6,370.8 800.5,379.8 805.0,370.8 809.5,372.7 813.3,380.4 817.8,384.9 822.3,381.0" fill="none" stroke="#0a62c0" stroke-width="2.7" stroke-linejoin="round" stroke-linecap="round" stroke-dasharray="5.6 6.5"/>
<polyline points="490.4,359.7 491.7,376.5 493.4,392.9 497.2,377.8 501.7,373.9 506.2,391.6 510.7,400.6 514.6,383.9 519.1,403.2 523.6,422.4 528.7,440.5 534.5,456.7 541.6,473.7 544.8,463.2 546.8,441.8 548.0,422.4 549.3,410.9 551.2,405.7 555.1,395.4 559.0,375.8 563.5,358.7 568.0,358.7 572.5,377.8 577.0,350.7 580.8,384.4 584.5,380.8 589.6,400.4 594.1,419.7 599.0,442.2 601.2,418.4 603.2,399.4 607.7,398.1 611.9,398.5 616.0,417.8 620.5,399.1 624.4,386.9 628.9,372.4 634.0,364.7 637.9,365.4 641.8,366.7 646.9,360.9 650.8,360.9 655.9,348.0 660.4,354.4 664.3,356.4 668.8,358.9 672.9,344.1 677.1,364.1 681.6,350.6 686.2,359.6 690.9,360.9 695.2,366.7 699.3,362.2 704.2,366.7 708.6,360.9 713.2,359.9 717.3,366.0 721.4,379.5 725.7,375.0 729.9,380.2 734.3,364.7 738.5,378.2 739.8,391.8 739.3,404.3 741.2,436.5 742.5,459.3 743.5,483.7 744.7,459.3 745.1,436.5 747.0,404.3 748.4,375.9 752.2,388.1 756.7,388.8 761.2,376.5 765.5,372.0 769.6,381.0 774.1,377.8 776.7,390.0 778.5,397.9 781.1,421.0 784.3,445.5 785.0,454.1 787.3,470.2 789.5,455.4 791.4,445.1 794.0,441.0 796.9,437.1 799.1,418.4 800.4,410.7 804.3,400.4 806.9,391.3 810.1,373.3 813.3,356.6 817.8,351.4 822.3,329.6" fill="none" stroke="#000" stroke-width="2.0" stroke-linejoin="round" stroke-linecap="round"/>
<polyline points="497.3,382.8 502.4,384.8 506.2,388.7 510.7,388.0 514.6,383.5 519.1,388.0 523.6,366.2 528.1,366.8 532.6,348.2 536.5,348.8 542.0,330.1 546.1,355.2 550.6,363.6 555.1,371.3 559.0,379.0 563.5,383.5 568.0,383.9 572.5,383.5 577.0,385.5 580.8,380.3 584.5,373.7 589.0,377.6 594.1,372.4 598.6,356.4 603.2,378.2 607.7,378.2 612.2,374.4 616.7,373.1 621.2,373.1 624.4,379.5 628.9,386.6 634.0,391.8 637.9,386.0 641.8,386.0 646.9,389.2 650.8,386.6 655.9,380.2 660.4,380.4 664.3,384.0 668.8,386.6 672.9,376.3 677.1,389.2 681.6,389.2 681.9,387.9 686.2,395.0 690.9,387.2 695.2,391.8 699.3,390.5 704.2,394.3 708.6,399.5 713.2,398.8 717.3,393.0 721.4,383.4 725.7,381.5 729.9,382.8 734.3,381.5 738.5,378.9 743.0,366.0 747.5,362.8 752.0,372.4 756.5,379.5 761.0,380.8 765.5,380.8 769.4,381.5 774.6,380.8 779.1,371.2 783.1,356.6 787.6,343.7 790.2,363.7 792.8,369.5 796.6,377.8 800.5,385.5 805.0,381.7 809.5,376.5 813.3,381.0 817.8,384.9 822.3,397.8" fill="none" stroke="#000" stroke-width="1.9" stroke-linejoin="round" stroke-linecap="round" stroke-dasharray="4.1 4.75"/>
<polyline points="490.4,403.8 493.4,400.6 497.2,397.4 501.7,398.3 506.9,396.1 511.4,398.6 515.2,400.3 519.7,401.2 524.2,404.7 529.4,405.1 532.9,412.2 536.5,417.3 540.3,426.3 542.2,432.8 544.2,443.0 546.1,454.0 548.7,451.4 551.9,449.5 555.1,446.2 557.7,436.6 560.9,422.4 563.5,412.2 566.0,407.7 569.3,405.1 573.1,404.4 577.0,404.4 580.8,401.2 583.9,405.6 588.4,408.4 592.9,415.2 598.0,421.7 602.5,424.6 607.0,426.2 611.5,425.9 616.0,426.8 620.5,420.4 625.0,417.2 629.5,413.3 634.0,408.8 637.9,411.4 642.4,410.1 646.9,409.7 650.8,407.9 655.9,406.2 660.4,405.8 664.9,406.2 670.1,407.9 674.6,408.8 677.8,408.2 682.9,405.6 690.0,402.4 692.9,401.4 699.3,399.7 703.8,404.0 708.3,405.9 713.5,409.8 719.9,407.8 724.4,408.5 729.5,407.6 732.9,410.1 736.1,421.0 739.3,433.9 740.6,449.3 740.6,459.3 741.9,482.4 743.4,503.7 745.1,482.4 746.8,459.3 747.7,444.2 751.5,441.0 754.1,430.0 756.7,417.2 758.0,397.9 758.6,369.5 759.9,343.7 761.2,325.7 762.9,350.2 764.2,369.5 765.5,387.5 770.2,384.2 774.1,385.5 777.3,392.6 781.2,397.9 786.9,407.5 791.4,410.1 795.9,414.6 800.4,419.1 804.9,417.2 810.1,415.9 815.2,413.9 819.1,412.3" fill="none" stroke="#ff0000" stroke-width="2.0" stroke-linejoin="round" stroke-linecap="round"/>
<text x="474.3" y="323.9" font-size="13.3" text-anchor="end" textLength="15.7" lengthAdjust="spacingAndGlyphs" fill="#000">50</text>
<text x="474.3" y="355.9" font-size="13.3" text-anchor="end" textLength="15.7" lengthAdjust="spacingAndGlyphs" fill="#000">25</text>
<text x="474.3" y="388.7" font-size="13.3" text-anchor="end" textLength="7.8" lengthAdjust="spacingAndGlyphs" fill="#000">0</text>
<text x="474.3" y="420.9" font-size="13.3" text-anchor="end" textLength="20.4" lengthAdjust="spacingAndGlyphs" fill="#ff0000">-25</text>
<text x="474.3" y="453.7" font-size="13.3" text-anchor="end" textLength="20.4" lengthAdjust="spacingAndGlyphs" fill="#ff0000">-50</text>
<text x="474.3" y="486.1" font-size="13.3" text-anchor="end" textLength="20.4" lengthAdjust="spacingAndGlyphs" fill="#ff0000">-75</text>
<text x="474.3" y="519.5" font-size="13.3" text-anchor="end" textLength="28.2" lengthAdjust="spacingAndGlyphs" fill="#ff0000">-100</text>
<text x="835.5" y="323.9" font-size="13.3" textLength="15.7" lengthAdjust="spacingAndGlyphs" fill="#000">16</text>
<text x="835.5" y="348.34999999999997" font-size="13.3" textLength="15.7" lengthAdjust="spacingAndGlyphs" fill="#000">12</text>
<text x="835.5" y="372.79999999999995" font-size="13.3" textLength="7.8" lengthAdjust="spacingAndGlyphs" fill="#000">8</text>
<text x="835.5" y="397.25" font-size="13.3" textLength="7.8" lengthAdjust="spacingAndGlyphs" fill="#000">4</text>
<text x="835.5" y="421.7" font-size="13.3" textLength="7.8" lengthAdjust="spacingAndGlyphs" fill="#000">0</text>
<text x="836" y="446.15" font-size="13.3" textLength="12.5" lengthAdjust="spacingAndGlyphs" fill="#ff0000">-4</text>
<text x="836" y="470.6" font-size="13.3" textLength="12.5" lengthAdjust="spacingAndGlyphs" fill="#ff0000">-8</text>
<text x="836" y="495.05" font-size="13.3" textLength="20.4" lengthAdjust="spacingAndGlyphs" fill="#ff0000">-12</text>
<text x="836" y="519.5" font-size="13.3" textLength="20.4" lengthAdjust="spacingAndGlyphs" fill="#ff0000">-16</text>
<text x="490.5" y="536" font-size="13.3" text-anchor="middle" textLength="30" lengthAdjust="spacingAndGlyphs" fill="#000">2006</text>
<text x="542.7" y="536" font-size="13.3" text-anchor="middle" textLength="30" lengthAdjust="spacingAndGlyphs" fill="#000">2009</text>
<text x="595.9" y="536" font-size="13.3" text-anchor="middle" textLength="30" lengthAdjust="spacingAndGlyphs" fill="#000">2012</text>
<text x="648.2" y="536" font-size="13.3" text-anchor="middle" textLength="30" lengthAdjust="spacingAndGlyphs" fill="#000">2015</text>
<text x="701.6" y="536" font-size="13.3" text-anchor="middle" textLength="30" lengthAdjust="spacingAndGlyphs" fill="#000">2018</text>
<text x="754.5" y="536" font-size="13.3" text-anchor="middle" textLength="30" lengthAdjust="spacingAndGlyphs" fill="#000">2021</text>
<text x="806.7" y="536" font-size="13.3" text-anchor="middle" textLength="30" lengthAdjust="spacingAndGlyphs" fill="#000">2024</text>
<text x="529.8" y="307" font-size="14" textLength="309.7" lengthAdjust="spacingAndGlyphs" fill="#000" stroke="#000" stroke-width="0.4">ECB Bank Lending Survey, Expected (households)</text>
<line x1="530.3" y1="451.8" x2="573.9" y2="451.8" stroke="#0a62c0" stroke-width="1.9" stroke-linecap="round"/>
<text x="579.8" y="454.6" font-size="14" textLength="148.6" lengthAdjust="spacingAndGlyphs" fill="#000">Consumer credit demand</text>
<line x1="530.3" y1="467.3" x2="574.6" y2="467.3" stroke="#0a62c0" stroke-width="2.7" stroke-dasharray="5.6 6.5" stroke-linecap="round"/>
<text x="579.8" y="470.1" font-size="14" textLength="159.4" lengthAdjust="spacingAndGlyphs" fill="#000">Consumer credit standards</text>
<line x1="530.3" y1="483.0" x2="573.9" y2="483.0" stroke="#000" stroke-width="1.9" stroke-linecap="round"/>
<text x="579.8" y="485.8" font-size="14" textLength="137.3" lengthAdjust="spacingAndGlyphs" fill="#000">Housing credit demand</text>
<line x1="530.3" y1="498.5" x2="574.6" y2="498.5" stroke="#000" stroke-width="1.7" stroke-dasharray="4.1 4.75" stroke-linecap="round"/>
<text x="579.8" y="501.3" font-size="14" textLength="147.4" lengthAdjust="spacingAndGlyphs" fill="#000">Housing credit standards</text>
<line x1="530.3" y1="512.9" x2="573.9" y2="512.9" stroke="#ff0000" stroke-width="1.9" stroke-linecap="round"/>
<text x="579.8" y="515.6999999999999" font-size="14" textLength="131.1" lengthAdjust="spacingAndGlyphs" fill="#000">Real GDP, %, y/y [RHS]</text>
<text x="886" y="570" font-size="14.8" text-anchor="end" textLength="628" lengthAdjust="spacingAndGlyphs" fill="#666">*CREDIT IMPULSE IS MEASURED AS THE ANNUAL CHANGE OF THE ANNUAL GROWTH RATE OF MFI LOANS</text>
<text x="886" y="588" font-size="14.8" text-anchor="end" textLength="213.5" lengthAdjust="spacingAndGlyphs" fill="#666">** ADJUSTED FOR SECURITIZATIONS</text>
<text x="886" y="610" font-size="17" text-anchor="end" textLength="753" lengthAdjust="spacingAndGlyphs" fill="#6a6a6a">SOURCE ECB, ECB SURVEY ON THE DISTRIBUTION OF CREDIT, BLS, BNP PARIBAS CALCULATIONS</text>
</svg>
</body></html>
